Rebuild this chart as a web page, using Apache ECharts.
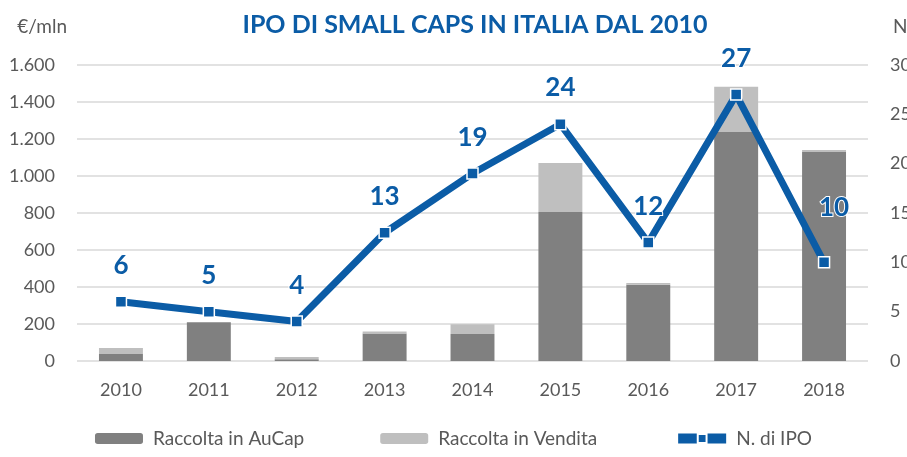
<!DOCTYPE html>
<html>
<head>
    <meta charset="utf-8">
    <title>IPO di small caps in Italia</title>
    <script src="https://cdn.jsdelivr.net/npm/echarts@6.0.0/dist/echarts.min.js"></script>
</head>
<body style="margin:0">
<div id="main" style="width: 907px;height:457px;"></div>
<script type="text/javascript">

    // dati (€/mln e numero di IPO)
    let years = ['2010', '2011', '2012', '2013', '2014', '2015', '2016', '2017', '2018'];
    let raccoltaAuCap = [40, 210, 10, 148, 146, 805, 412, 1238, 1130];
    let raccoltaVendita = [30, 0, 12, 12, 52, 265, 10, 245, 10];
    let numIpo = [6, 5, 4, 13, 19, 24, 12, 27, 10];

    let blu = '#0B5CA6';
    let grigioTesto = '#595959';
    let font = 'Lato';

    // etichette della linea: solo l'ultima e' spostata
    let ipoData = numIpo.map(function (v, i) {
        if (i === numIpo.length - 1) {
            return {value: v, label: {offset: [10, -18]}};
        }
        return v;
    });

    let option = {
        animation: false,
        textStyle: {fontFamily: font},
        title: {
            text: 'IPO DI SMALL CAPS IN ITALIA DAL 2010',
            left: 470,
            textAlign: 'center',
            top: 7,
            textStyle: {color: blu, fontSize: 25, fontWeight: 'bold', fontFamily: font}
        },
        grid: {left: 77, right: 39, top: 65, bottom: 96, outerBoundsMode: 'none'},
        legend: {
            bottom: 4,
            left: 'center',
            itemWidth: 48,
            itemHeight: 11,
            itemGap: 76,
            textStyle: {color: grigioTesto, fontSize: 19, fontFamily: font, padding: [0, 0, 0, 5]},
            data: [
                'Raccolta in AuCap',
                'Raccolta in Vendita',
                {name: 'N. di IPO', lineStyle: {width: 10}}
            ]
        },
        xAxis: {
            type: 'category',
            data: years,
            axisLine: {show: false},
            axisTick: {show: false},
            axisLabel: {color: grigioTesto, fontSize: 18, margin: 20}
        },
        yAxis: [
            {
                type: 'value',
                min: 0,
                max: 1600,
                interval: 200,
                name: '€/mln',
                nameLocation: 'end',
                nameGap: 29,
                nameTextStyle: {color: grigioTesto, fontSize: 19, align: 'right', padding: [0, 10, 0, 0]},
                axisLabel: {
                    color: grigioTesto,
                    fontSize: 18,
                    margin: 22,
                    formatter: function (v) {
                        return String(v).replace(/\B(?=(\d{3})+(?!\d))/g, '.');
                    }
                },
                splitLine: {lineStyle: {color: '#d9d9d9', width: 1.5}}
            },
            {
                type: 'value',
                min: 0,
                max: 30,
                interval: 5,
                name: 'N.',
                nameLocation: 'end',
                nameGap: 29,
                nameTextStyle: {color: grigioTesto, fontSize: 19, align: 'left', padding: [0, 0, 0, 25]},
                axisLabel: {color: grigioTesto, fontSize: 18, margin: 22},
                splitLine: {show: false}
            }
        ],
        series: [
            {
                name: 'Raccolta in AuCap',
                type: 'bar',
                stack: 'raccolta',
                barWidth: '50%',
                itemStyle: {color: '#808080'},
                data: raccoltaAuCap
            },
            {
                name: 'Raccolta in Vendita',
                type: 'bar',
                stack: 'raccolta',
                barWidth: '50%',
                itemStyle: {color: '#bfbfbf'},
                data: raccoltaVendita
            },
            {
                name: 'N. di IPO',
                type: 'line',
                yAxisIndex: 1,
                symbol: 'rect',
                symbolSize: 11,
                lineStyle: {color: blu, width: 7},
                itemStyle: {color: blu, borderColor: '#ffffff', borderWidth: 1.5},
                label: {
                    show: true,
                    position: 'top',
                    distance: 17,
                    color: blu,
                    fontSize: 26,
                    fontWeight: 'bold',
                    fontFamily: font,
                    textBorderColor: '#ffffff',
                    textBorderWidth: 2
                },
                z: 5,
                data: ipoData
            }
        ]
    };

    let myChart = echarts.init(document.getElementById('main'));
    myChart.setOption(option);
</script>
</body>
</html>
